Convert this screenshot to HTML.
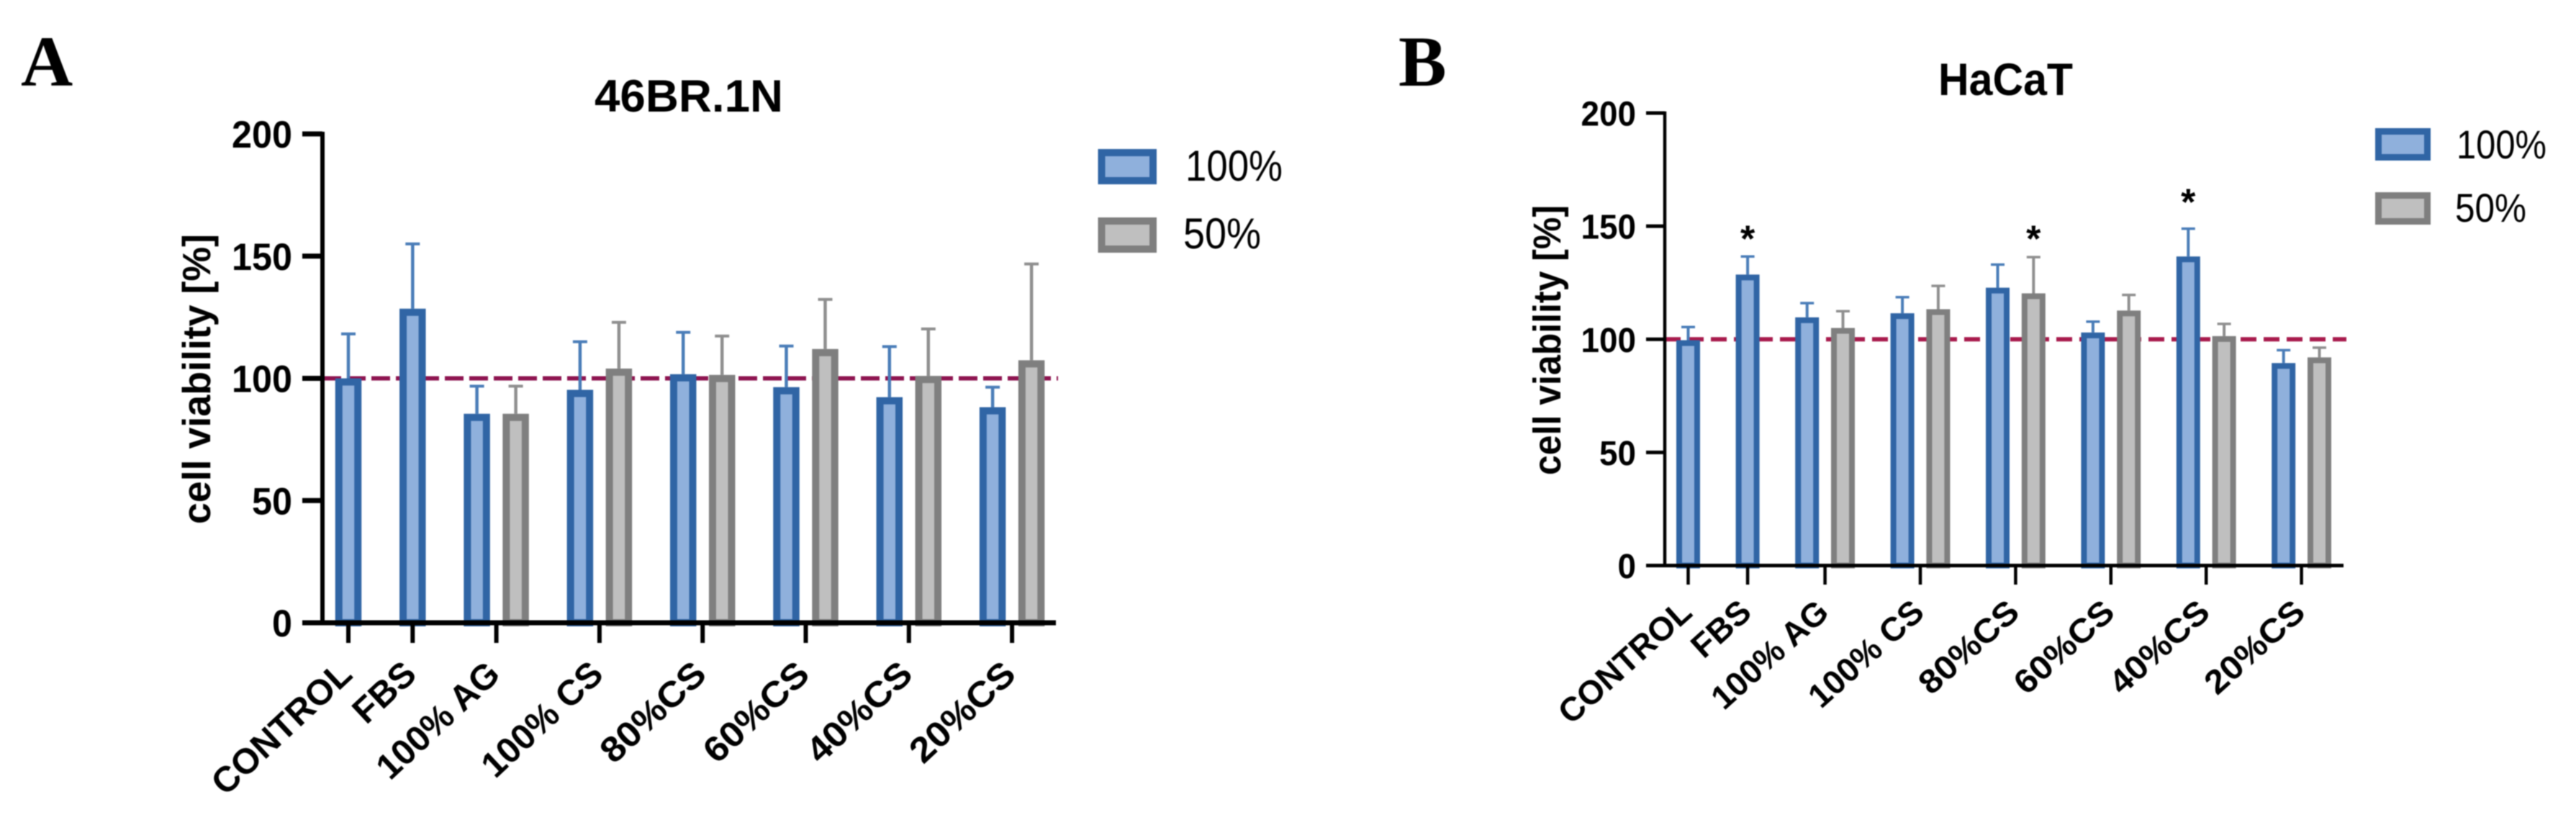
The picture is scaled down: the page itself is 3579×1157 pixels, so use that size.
<!DOCTYPE html>
<html lang="en">
<head>
<meta charset="utf-8">
<title>Cell viability charts</title>
<style>
html,body{margin:0;padding:0;background:#fff;width:3579px;height:1157px;overflow:hidden}
svg{display:block;filter:blur(0.7px)}
text{font-family:"Liberation Sans",Arial,sans-serif;fill:#000}
.panel{font-family:"Liberation Serif","Times New Roman",serif;font-weight:700;font-size:100px}
.bold{font-weight:700}
</style>
</head>
<body>
<svg id="figure" xmlns="http://www.w3.org/2000/svg" width="3579" height="1157" viewBox="0 0 3579 1157">
  <rect x="0" y="0" width="3579" height="1157" fill="#fff"/>

  <text class="panel" x="29" y="119">A</text>
  <text class="bold" x="826" y="155" font-size="63" textLength="262" lengthAdjust="spacingAndGlyphs">46BR.1N</text>
  <text class="bold" transform="translate(292 728) rotate(-90)" x="0" y="0" font-size="55" textLength="403" lengthAdjust="spacingAndGlyphs">cell viability [%]</text>
  <g id="chartA"></g>
  <g>
    <rect x="1530.5" y="212" width="71.5" height="39" fill="#8FB0DC" stroke="#3065A5" stroke-width="10"/>
    <text x="1647" y="251" font-size="60" textLength="135" lengthAdjust="spacingAndGlyphs">100%</text>
    <rect x="1530.5" y="307" width="71.5" height="39" fill="#BFBFBF" stroke="#7F7F7F" stroke-width="10"/>
    <text x="1644" y="345" font-size="60" textLength="108" lengthAdjust="spacingAndGlyphs">50%</text>
  </g>

  <text class="panel" x="1943" y="119">B</text>
  <text class="bold" x="2693" y="132" font-size="63" textLength="187" lengthAdjust="spacingAndGlyphs">HaCaT</text>
  <text class="bold" transform="translate(2168 660) rotate(-90)" x="0" y="0" font-size="54" textLength="375" lengthAdjust="spacingAndGlyphs">cell viability [%]</text>
  <g id="chartB"></g>
  <g>
    <rect x="3304.5" y="182.5" width="68" height="36" fill="#8FB0DC" stroke="#3065A5" stroke-width="9"/>
    <text x="3413" y="220" font-size="56" textLength="125" lengthAdjust="spacingAndGlyphs">100%</text>
    <rect x="3304.5" y="271.5" width="68" height="36" fill="#BFBFBF" stroke="#7F7F7F" stroke-width="9"/>
    <text x="3411" y="308" font-size="56" textLength="99" lengthAdjust="spacingAndGlyphs">50%</text>
  </g>
</svg>

<script>
const yTickLabels = [0, 50, 100, 150, 200];
const categories = ["CONTROL", "FBS", "100% AG", "100% CS", "80%CS", "60%CS", "40%CS", "20%CS"];
const referenceValue = 100;

const a100Values = [100, 128.5, 85.5, 95.3, 101.7, 96.4, 92.3, 88.2];
const a100ErrorTops = [118.2, 155, 96.8, 115, 118.8, 113.2, 113, 96.4];
const a50Values = [null, null, 85.5, 104, 101.4, 112, 101, 107.4];
const a50ErrorTops = [null, null, 96.8, 122.9, 117.3, 132.3, 120.2, 146.8];

const b100Values = [99.6, 128.6, 109.7, 111.5, 122.8, 103, 136.6, 89.5];
const b100ErrorTops = [105.4, 136.6, 116, 118.6, 133, 107.8, 148.9, 95.2];
const b50Values = [null, null, 105, 113.3, 120.3, 112.7, 101.4, 92];
const b50ErrorTops = [null, null, 112.4, 123.6, 136.3, 119.6, 106.8, 96.3];

const bStarCategories = ["FBS", "80%CS", "40%CS"];
const bStarSeries = [0, 1, 0];
const bStarLevels = [147.3, 147.3, 163.5];

const NS = "http://www.w3.org/2000/svg";
function mk(tag, attrs, parent) {
  const n = document.createElementNS(NS, tag);
  for (const k in attrs) n.setAttribute(k, attrs[k]);
  parent.appendChild(n);
  return n;
}

const seriesStyles = [
  {key: "100", border: "#3065A5", fill: "#8FB0DC", err: "#4A7DB8"},
  {key: "50", border: "#7F7F7F", fill: "#BFBFBF", err: "#8F8F8F"}
];

function drawChart(g, c) {
  const y = v => c.y0 - v * (c.y0 - c.y200) / 200;

  // category positions: bands grow with how many bars a category holds
  const centers = [];
  let cursor = c.firstX;
  categories.forEach((name, i) => {
    const n = c.series[1].values[i] === null ? 1 : 2;
    if (i > 0) {
      const prevN = c.series[1].values[i - 1] === null ? 1 : 2;
      cursor += (prevN + n) / 2 * c.slot + c.gap;
    }
    centers.push({x: cursor, n: n});
  });
  const barX = (i, s) => centers[i].n === 1 ? centers[i].x : centers[i].x + (s === 0 ? -0.5 : 0.5) * c.slot;

  const refLine = mk("line", {x1: c.axisX, x2: c.refEnd, y1: y(referenceValue), y2: y(referenceValue), stroke: c.refColor, "stroke-width": c.refWidth, "stroke-dasharray": c.refDash}, g);
  
  

  c.series.forEach((ser, s) => {
    const st = seriesStyles[s];
    ser.values.forEach((v, i) => {
      if (v === null) return;
      const cx = barX(i, s);
      const stem = mk("line", {x1: cx, x2: cx, y1: y(v), y2: y(ser.errors[i]), stroke: st.err, "stroke-width": c.errW}, g);
      
      
      const cap = mk("line", {x1: cx - c.capW / 2, x2: cx + c.capW / 2, y1: y(ser.errors[i]), y2: y(ser.errors[i]), stroke: st.err, "stroke-width": c.capH}, g);
      
      
      const half = c.barW / 2 - c.border / 2;
      const bar = mk("rect", {x: cx - half, y: y(v) + c.border / 2, width: half * 2, height: Math.max(0, c.y0 - y(v) - c.border / 2), fill: st.fill, stroke: st.border, "stroke-width": c.border}, g);
      
      
    });
  });

  const yAxis = mk("line", {x1: c.axisX, x2: c.axisX, y1: y(200) - c.axisW / 2, y2: c.y0, stroke: "#000", "stroke-width": c.axisW}, g);
  
  
  const xAxis = mk("line", {x1: c.tickLeft, x2: c.axisEnd, y1: c.y0, y2: c.y0, stroke: "#000", "stroke-width": c.xAxisW}, g);
  
  

  yTickLabels.forEach(t => {
    const tick = mk("line", {x1: c.tickLeft, x2: c.axisX, y1: y(t), y2: y(t), stroke: "#000", "stroke-width": c.xAxisW}, g);
    
    
    const s = String(t);
    const label = mk("text", {x: c.yLabelRight, y: y(t) + c.yLabelDy, "font-size": c.yFont, "font-weight": 700, "text-anchor": "end", textLength: s.length * c.digitW, lengthAdjust: "spacingAndGlyphs"}, g);
    label.textContent = s;
    
    
  });

  categories.forEach((name, i) => {
    const cx = centers[i].x;
    const tick = mk("line", {x1: cx, x2: cx, y1: c.y0, y2: c.tickBottom, stroke: "#000", "stroke-width": c.xTickW}, g);
    
    
    const lx = cx + c.xLabelDx;
    const label = mk("text", {x: 0, y: 0, "font-size": c.xFont, "font-weight": 700, "text-anchor": "end", transform: "translate(" + lx + " " + c.xLabelY + ") rotate(" + c.xAngle + ")"}, g);
    label.textContent = name;
    // the percent labels without a space run a little wider in the source figure
    if (name.indexOf("% ") < 0 && name.indexOf("%") > 0) {
      label.setAttribute("textLength", label.getComputedTextLength() * 1.07);
      label.setAttribute("lengthAdjust", "spacingAndGlyphs");
    }
    
    
  });

  if (c.stars) {
    c.stars.categories.forEach((name, k) => {
      const i = categories.indexOf(name);
      const star = mk("text", {x: barX(i, c.stars.series[k]), y: y(c.stars.levels[k]) + 27, "font-size": 52, "font-weight": 700, "text-anchor": "middle"}, g);
      star.textContent = "*";
      
      
    });
  }
}

drawChart(document.getElementById("chartA"), {
  series: [{values: a100Values, errors: a100ErrorTops}, {values: a50Values, errors: a50ErrorTops}],
  y0: 865, y200: 186, axisX: 448, axisEnd: 1467, tickLeft: 420, tickBottom: 893,
  firstX: 484, slot: 54, gap: 35.3, barW: 36.5, border: 10,
  errW: 4.5, capW: 20, capH: 4,
  axisW: 6, xAxisW: 7, xTickW: 6,
  yFont: 53, digitW: 28, yLabelRight: 406, yLabelDy: 19,
  xFont: 49.5, xAngle: -43, xLabelDx: 8, xLabelY: 940,
  refEnd: 1470, refColor: "#8E1450", refWidth: 6, refDash: "26 8"
});

drawChart(document.getElementById("chartB"), {
  series: [{values: b100Values, errors: b100ErrorTops}, {values: b50Values, errors: b50ErrorTops}],
  y0: 785.5, y200: 157, axisX: 2313, axisEnd: 3256, tickLeft: 2287, tickBottom: 812,
  firstX: 2345.5, slot: 49.8, gap: 32.8, barW: 33, border: 8,
  errW: 4, capW: 19, capH: 3.5,
  axisW: 4.5, xAxisW: 5, xTickW: 4.5,
  yFont: 48, digitW: 25.5, yLabelRight: 2273, yLabelDy: 17.5,
  xFont: 46.5, xAngle: -42, xLabelDx: 8, xLabelY: 854,
  refEnd: 3260, refColor: "#A81A4C", refWidth: 6, refDash: "22 10",
  stars: {categories: bStarCategories, series: bStarSeries, levels: bStarLevels}
});
</script>
</body>
</html>
